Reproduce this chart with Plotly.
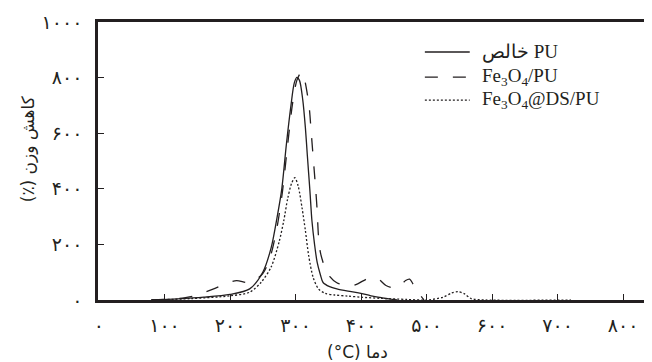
import plotly.graph_objects as go

# ---- data (temperature °C, weight-loss derivative values) ----
T_pure = [80, 120, 160, 200, 230, 250, 263, 272, 279, 286, 293, 298, 302, 306, 311, 315, 318, 322, 325, 329, 333, 338, 342, 352, 363, 380, 398, 415, 432, 455]
V_pure = [0, 4, 10, 20, 40, 100, 190, 300, 400, 560, 700, 780, 801, 790, 720, 620, 520, 390, 285, 200, 135, 90, 63, 48, 40, 32, 25, 15, 8, 0]

T_fe = [80, 130, 150, 175, 195, 210, 230, 250, 262, 272, 280, 288, 295, 302, 309, 313, 318, 321, 324, 328, 331, 333, 335, 338, 345, 352, 363, 380, 392, 404, 414, 426, 438, 452, 460, 468, 474, 480, 488, 496]
V_fe = [0, 8, 18, 40, 60, 70, 62, 95, 160, 265, 390, 560, 700, 790, 820, 800, 740, 690, 600, 480, 390, 320, 230, 170, 115, 85, 62, 50, 55, 70, 80, 76, 52, 42, 52, 70, 75, 55, 25, 0]

T_ds = [80, 140, 200, 230, 248, 263, 275, 282, 288, 294, 299, 304, 310, 315, 320, 327, 335, 345, 360, 380, 400, 430, 470, 500, 525, 538, 548, 558, 568, 590, 720]
V_ds = [0, 5, 15, 28, 65, 120, 210, 285, 365, 420, 440, 410, 330, 250, 160, 80, 40, 24, 18, 14, 10, 6, 2, 0, 10, 25, 30, 22, 5, 0, 0]

x_ticks = [0, 100, 200, 300, 400, 500, 600, 700, 800]
x_ticktext = ["۰", "۱۰۰", "۲۰۰", "۳۰۰", "۴۰۰", "۵۰۰", "۶۰۰", "۷۰۰", "۸۰۰"]
y_ticks = [0, 200, 400, 600, 800, 1000]
y_ticktext = ["۰", "۲۰۰", "۴۰۰", "۶۰۰", "۸۰۰", "۱۰۰۰"]

names = ["خالص PU", "Fe<sub>3</sub>O<sub>4</sub>/PU", "Fe<sub>3</sub>O<sub>4</sub>@DS/PU"]
x_title = "(°C) دما"
y_title = "(٪) کاهش وزن"

INK = "#231f20"
dashes = ["solid", "13px,15px", "2px,2px"]
widths = [1.3, 1.3, 1.3]

fig = go.Figure()
for T, V, d, w, n in zip([T_pure, T_fe, T_ds], [V_pure, V_fe, V_ds], dashes, widths, names):
    fig.add_trace(go.Scatter(x=T, y=V, mode="lines", name=n,
                             line=dict(color=INK, width=w, dash=d, shape="spline", smoothing=0.8),
                             showlegend=False))

tickfont = dict(family="DejaVu Sans", size=19, color=INK)
fig.update_layout(
    width=652, height=362,
    margin=dict(l=90, r=8, t=14, b=70, autoexpand=False),
    paper_bgcolor="white", plot_bgcolor="white",
    xaxis=dict(range=[-1.5, 844], showgrid=False, zeroline=False, automargin=False,
               showline=True, linecolor=INK, linewidth=2.5, mirror=True,
               ticks="inside", ticklen=6, tickwidth=1.3, tickcolor=INK,
               tickvals=x_ticks, ticktext=x_ticktext, tickfont=tickfont,
               ticklabelstandoff=6),
    yaxis=dict(range=[0, 1000], showgrid=False, zeroline=False, automargin=False,
               showline=True, linecolor=INK, linewidth=2.5, mirror=False,
               ticks="inside", ticklen=6, tickwidth=1.3, tickcolor=INK,
               tickvals=y_ticks, ticktext=y_ticktext, tickfont=tickfont,
               ticklabelstandoff=9),
    showlegend=False,
)

# axis titles
fig.add_annotation(text=x_title, xref="paper", yref="paper", x=0.469, y=-0.187,
                   showarrow=False, font=dict(family="DejaVu Sans", size=17, color=INK),
                   xanchor="center", yanchor="middle")
fig.add_annotation(text=y_title, xref="paper", yref="paper", x=-0.126, y=0.543,
                   showarrow=False, textangle=-90,
                   font=dict(family="DejaVu Sans", size=17, color=INK),
                   xanchor="center", yanchor="middle")

# manual legend
rows_y = [0.892, 0.802, 0.719]
for n, d, yy in zip(names, dashes, rows_y):
    fig.add_shape(type="line", xref="paper", yref="paper", x0=0.590, x1=0.671, y0=yy, y1=yy,
                  line=dict(color=INK, width=1.3, dash=d))
    fig.add_annotation(text=n, xref="paper", yref="paper", x=0.690, y=yy,
                       showarrow=False, xanchor="left", yanchor="middle",
                       font=dict(family="Liberation Serif", size=19, color=INK))

fig.write_html("out.html")
